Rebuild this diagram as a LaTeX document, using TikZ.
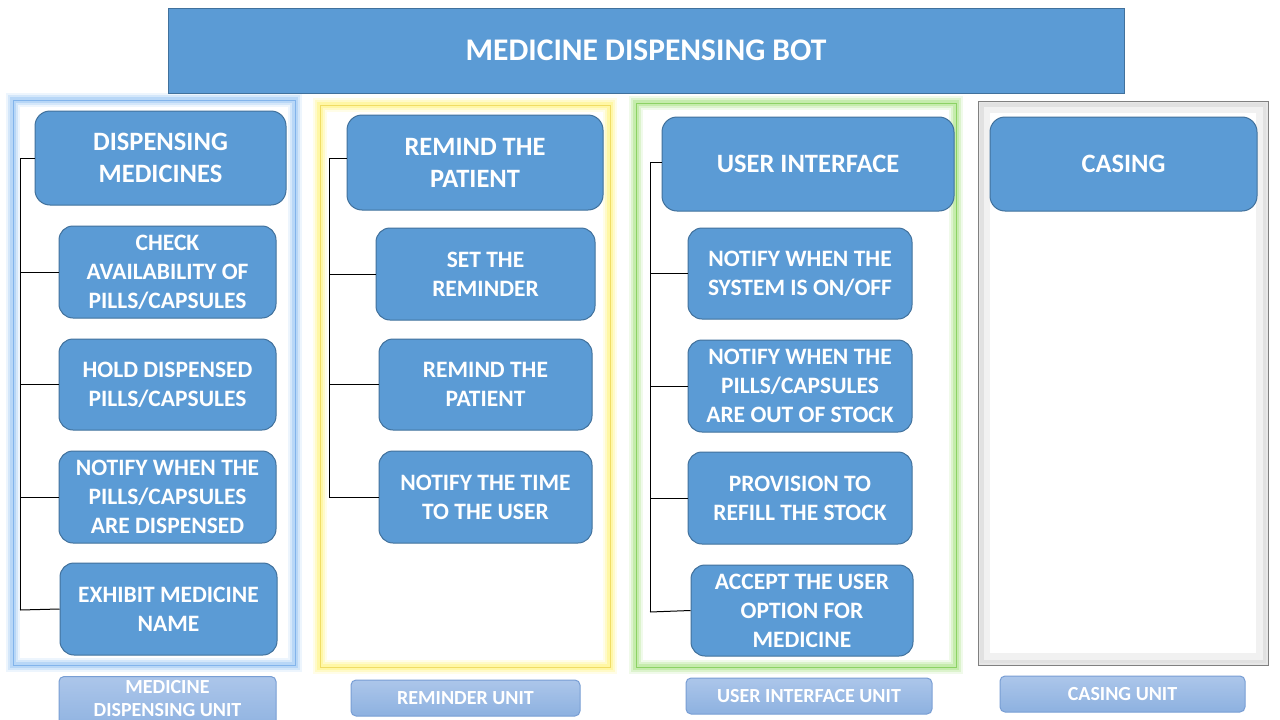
\documentclass[tikz,border=0pt]{standalone}
\usepackage{fontspec}
\setmainfont{Carlito}
\definecolor{boxfill}{RGB}{91,155,213}
\definecolor{boxline}{RGB}{65,113,156}
\definecolor{labtop}{RGB}{172,198,234}
\definecolor{labbot}{RGB}{141,177,224}
\definecolor{labline}{RGB}{120,158,212}
\definecolor{glowblue}{RGB}{157,200,245}
\definecolor{lineblue}{RGB}{130,180,235}
\definecolor{glowyellow}{RGB}{255,245,130}
\definecolor{lineyellow}{RGB}{240,220,100}
\definecolor{glowgreen}{RGB}{175,230,140}
\definecolor{linegreen}{RGB}{140,210,100}
\definecolor{glowgray}{RGB}{215,215,215}
\definecolor{linegray}{RGB}{128,128,128}
\tikzset{
  bigbox/.style={draw=boxline, fill=boxfill, line width=1pt, rounded corners=15pt,
    text=white, font=\fontsize{26.5}{32}\selectfont\bfseries, align=center, inner sep=0pt},
  subbox/.style={draw=boxline, fill=boxfill, line width=1pt, rounded corners=14pt,
    text=white, font=\fontsize{23.5}{29}\selectfont\bfseries, align=center, inner sep=0pt},
  unitlabel/.style={draw=labline, top color=labtop, bottom color=labbot, line width=1pt,
    rounded corners=5pt, text=white, font=\fontsize{20}{23}\selectfont\bfseries, align=center, inner sep=0pt},
  trunk/.style={draw=black, line width=1pt},
}
\begin{document}
\begin{tikzpicture}[x=1pt,y=-1pt]
\useasboundingbox (0,0) rectangle (1280,720);
\clip (0,0) rectangle (1280,720);
\fill[white] (0,0) rectangle (1280,720);

% frames with glow
\newcommand{\glowframe}[6]{%
  \draw[#5, line width=14pt, opacity=0.18] (#1,#2) rectangle (#3,#4);
  \draw[#5, line width=10pt, opacity=0.3] (#1,#2) rectangle (#3,#4);
  \draw[#5, line width=6pt, opacity=0.5] (#1,#2) rectangle (#3,#4);
  \draw[#6, line width=1pt] (#1,#2) rectangle (#3,#4);
}
\glowframe{13}{100}{295}{665}{glowblue}{lineblue}
\glowframe{320}{105}{610}{667}{glowyellow}{lineyellow}
\glowframe{636}{103}{956}{667}{glowgreen}{linegreen}
% gray frame with inner shadow
\draw[glowgray, line width=10pt, opacity=0.35] (985,108) rectangle (1261,658);
\draw[glowgray, line width=5pt, opacity=0.6] (981,104) rectangle (1265,662);
\draw[linegray, line width=1pt] (978,101) rectangle (1268,665);

% title
\node[draw=boxline, fill=boxfill, line width=1pt, minimum width=956pt, minimum height=85pt,
  text=white, font=\fontsize{31.5}{36}\selectfont\bfseries, inner sep=0pt] (title) at (646,50.5) {MEDICINE DISPENSING BOT};

% column 1
\node[bigbox, minimum width=251pt, minimum height=94pt] (a0) at (160.5,158) {DISPENSING\\MEDICINES};
\node[subbox, minimum width=217pt, minimum height=92pt] (a1) at (167.5,272) {CHECK\\AVAILABILITY OF\\PILLS/CAPSULES};
\node[subbox, minimum width=217pt, minimum height=91pt] (a2) at (167.5,384.5) {HOLD DISPENSED\\PILLS/CAPSULES};
\node[subbox, minimum width=217pt, minimum height=92pt] (a3) at (167.5,497) {NOTIFY WHEN THE\\PILLS/CAPSULES\\ARE DISPENSED};
\node[subbox, minimum width=217pt, minimum height=92pt] (a4) at (168.5,609) {EXHIBIT MEDICINE\\NAME};
\coordinate (ta) at (20,158);
\coordinate (tab) at (20,610);
\draw[trunk] (ta) -- (tab);
\draw[trunk] (a0.west) -- (a0.west -| ta);
\draw[trunk] (a1.west) -- (a1.west -| ta);
\draw[trunk] (a2.west) -- (a2.west -| ta);
\draw[trunk] (a3.west) -- (a3.west -| ta);
\draw[trunk] (a4.west) -- (tab);

% column 2
\node[bigbox, minimum width=256pt, minimum height=95pt] (b0) at (475,162.5) {REMIND THE\\PATIENT};
\node[subbox, minimum width=219pt, minimum height=92pt] (b1) at (485.5,274) {SET THE\\REMINDER};
\node[subbox, minimum width=213pt, minimum height=91pt] (b2) at (485.5,384.5) {REMIND THE\\PATIENT};
\node[subbox, minimum width=213pt, minimum height=92pt] (b3) at (485.5,497) {NOTIFY THE TIME\\TO THE USER};
\coordinate (tb) at (329,158);
\coordinate (tbb) at (329,498);
\draw[trunk] (tb) -- (tbb);
\draw[trunk] (tb) -- (tb -| b0.west);
\draw[trunk] (b1.west) -- (b1.west -| tb);
\draw[trunk] (b2.west) -- (b2.west -| tb);
\draw[trunk] (b3.west) -- (b3.west -| tb);

% column 3
\node[bigbox, minimum width=292pt, minimum height=94pt] (c0) at (808,164) {USER INTERFACE};
\node[subbox, minimum width=224pt, minimum height=91pt] (c1) at (800,273.5) {NOTIFY WHEN THE\\SYSTEM IS ON/OFF};
\node[subbox, minimum width=224pt, minimum height=92pt] (c2) at (800,386) {NOTIFY WHEN THE\\PILLS/CAPSULES\\ARE OUT OF STOCK};
\node[subbox, minimum width=224pt, minimum height=92pt] (c3) at (800,498) {PROVISION TO\\REFILL THE STOCK};
\node[subbox, minimum width=222pt, minimum height=91pt] (c4) at (802,610.5) {ACCEPT THE USER\\OPTION FOR\\MEDICINE};
\coordinate (tc) at (650,162);
\coordinate (tcb) at (650,612);
\draw[trunk] (tc) -- (tcb);
\draw[trunk] (tc) -- (tc -| c0.west);
\draw[trunk] (c1.west) -- (c1.west -| tc);
\draw[trunk] (c2.west) -- (c2.west -| tc);
\draw[trunk] (c3.west) -- (c3.west -| tc);
\draw[trunk] (c4.west) -- (tcb);

% column 4
\node[bigbox, minimum width=267pt, minimum height=94pt] (d0) at (1123.5,164) {CASING};

% unit labels
\node[unitlabel, minimum width=217pt, minimum height=56pt, anchor=north] (u1) at (167.5,676) {};
\node[text=white, font=\fontsize{20}{23}\selectfont\bfseries, align=center, inner sep=0pt] (u1t) at (167.5,698.5) {MEDICINE\\DISPENSING UNIT};
\node[unitlabel, minimum width=229pt, minimum height=36pt] (u2) at (465.5,698) {REMINDER UNIT};
\node[unitlabel, minimum width=246pt, minimum height=36pt] (u3) at (809,696) {USER INTERFACE UNIT};
\node[unitlabel, minimum width=245pt, minimum height=36pt] (u4) at (1122.5,694) {CASING UNIT};
\end{tikzpicture}
\end{document}
